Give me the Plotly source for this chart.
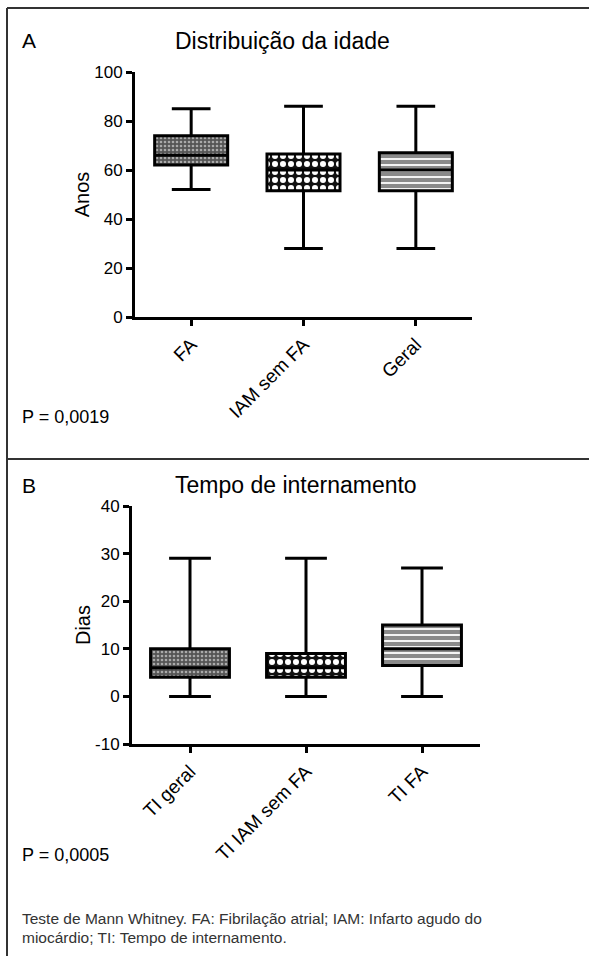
import plotly.graph_objects as go

W, H = 589, 956

# ---- Data: Panel A (Distribuição da idade) ----
cats_a = ["FA", "IAM sem FA", "Geral"]
lower_a = [52, 28, 28]
q1_a = [62, 51.5, 51.5]
median_a = [66, 60, 60]
q3_a = [74, 66.5, 67]
upper_a = [85, 86, 86]

# ---- Data: Panel B (Tempo de internamento) ----
cats_b = ["TI geral", "TI IAM sem FA", "TI FA"]
lower_b = [0, 0, 0]
q1_b = [4, 4, 6.5]
median_b = [6, 6, 10]
q3_b = [10, 9, 15]
upper_b = [29, 29, 27]

yticks_a = [0, 20, 40, 60, 80, 100]
yticklabels_a = ["0", "20", "40", "60", "80", "100"]
yticks_b = [-10, 0, 10, 20, 30, 40]
yticklabels_b = ["-10", "0", "10", "20", "30", "40"]

FONT = "Liberation Sans, Arial, Helvetica, sans-serif"

def px_x(p):
    return p / W

def px_y(p):
    return 1 - p / H

patterns = [
    dict(shape=".", bgcolor="#555555", fgcolor="#aaaaaa", size=4, solidity=0.35, fillmode="replace"),
    dict(shape=".", bgcolor="#111111", fgcolor="#ffffff", size=8, solidity=0.45, fillmode="replace"),
    dict(shape="-", bgcolor="#8a8a8a", fgcolor="#ffffff", size=6, solidity=0.3, fillmode="replace"),
]

fig = go.Figure()

def add_panel(cats, lo, q1, med, q3, hi, xa, ya, width):
    for i, c in enumerate(cats):
        fig.add_trace(go.Bar(
            x=[c], y=[q3[i] - q1[i]], base=[q1[i]], width=width,
            marker=dict(color=patterns[i]["bgcolor"], pattern=patterns[i], line=dict(width=0)),
            xaxis=xa, yaxis=ya, showlegend=False, hoverinfo="skip",
        ))
    fig.add_trace(go.Box(
        x=cats, q1=q1, median=med, q3=q3, lowerfence=lo, upperfence=hi,
        width=width, whiskerwidth=0.53,
        fillcolor="rgba(0,0,0,0)", line=dict(color="black", width=3),
        xaxis=xa, yaxis=ya, showlegend=False, boxpoints=False,
    ))

add_panel(cats_a, lower_a, q1_a, median_a, q3_a, upper_a, "x", "y", 0.65)
add_panel(cats_b, lower_b, q1_b, median_b, q3_b, upper_b, "x2", "y2", 0.68)

axis_common = dict(
    showline=True, linewidth=3, linecolor="black", ticks="outside",
    ticklen=6, tickwidth=3, tickcolor="black", showgrid=False, zeroline=False,
)
yfont = dict(family=FONT, size=17, color="black")
xfont = dict(family=FONT, size=19, color="black")

fig.update_layout(
    width=W, height=H,
    margin=dict(l=0, r=0, t=0, b=0),
    paper_bgcolor="white", plot_bgcolor="white",
    barmode="overlay", boxmode="overlay",
    showlegend=False,
    xaxis=dict(domain=[px_x(135), px_x(472)], anchor="y", tickangle=-45,
               range=[-0.5, 2.5], tickfont=xfont, automargin=False, **axis_common),
    yaxis=dict(domain=[px_y(317), px_y(72)], anchor="x", range=[0, 100],
               tickvals=yticks_a, ticktext=yticklabels_a, tickfont=yfont, automargin=False,
               title=dict(text="Anos", font=dict(family=FONT, size=20, color="black"), standoff=0),
               **axis_common),
    xaxis2=dict(domain=[px_x(132), px_x(480)], anchor="y2", tickangle=-45,
                range=[-0.5, 2.5], tickfont=xfont, automargin=False, **axis_common),
    yaxis2=dict(domain=[px_y(744), px_y(506)], anchor="x2", range=[-10, 40],
                tickvals=yticks_b, ticktext=yticklabels_b, tickfont=yfont, automargin=False,
                title=dict(text="Dias", font=dict(family=FONT, size=20, color="black"), standoff=0),
                **axis_common),
)

def ann(text, x, y, size, xanchor="left", color="black", family=FONT):
    fig.add_annotation(text=text, x=px_x(x), y=px_y(y), xref="paper", yref="paper",
                       xanchor=xanchor, yanchor="middle", showarrow=False,
                       font=dict(family=family, size=size, color=color))

ann("A", 20, 41, 21)
ann("Distribuição da idade", 282, 41, 23, xanchor="center")
ann("P = 0,0019", 20, 417, 18)
ann("B", 20, 485, 21)
ann("Tempo de internamento", 296, 485, 23, xanchor="center")
ann("P = 0,0005", 20, 855, 18)
ann("Teste de Mann Whitney. FA: Fibrilação atrial; IAM: Infarto agudo do", 20, 918, 15.5, color="#333333")
ann("miocárdio; TI: Tempo de internamento.", 20, 937, 15.5, color="#333333")

# frame lines
line_style = dict(color="#333333", width=2)
fig.add_shape(type="line", xref="paper", yref="paper", x0=px_x(7), x1=1, y0=px_y(8), y1=px_y(8), line=line_style)
fig.add_shape(type="line", xref="paper", yref="paper", x0=px_x(7), x1=px_x(7), y0=px_y(8), y1=0, line=line_style)
fig.add_shape(type="line", xref="paper", yref="paper", x0=px_x(7), x1=1, y0=px_y(459), y1=px_y(459), line=line_style)

fig.write_html("out.html", config={"displayModeBar": False},
               post_script="document.body.style.margin='0';document.body.style.overflow='hidden';")
